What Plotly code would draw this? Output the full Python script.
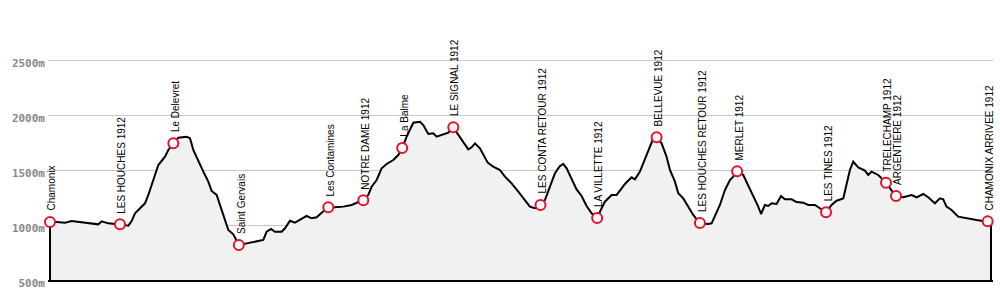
import plotly.graph_objects as go

# Profile: distance (km) and elevation (m)
dist = [0.0, 1.2, 2.7, 3.9, 5.1, 6.3, 7.5, 8.7, 9.3, 10.5, 11.7, 12.6, 14.1, 14.7, 15.3, 16.5, 17.1, 17.7,
        18.3, 18.9, 19.5, 20.7, 21.3, 22.2, 23.1, 24.6, 25.2, 25.8, 26.7, 27.6, 28.5, 29.1, 30.0, 30.6,
        31.5, 32.1, 33.0, 34.0, 35.4, 36.9, 38.4, 39.0, 39.8, 40.5, 41.7, 42.3, 43.2, 44.1, 45.3, 46.2,
        47.1, 48.0, 48.9, 50.1, 51.3, 52.8, 54.3, 55.2, 56.4, 57.3, 57.9, 58.8, 59.7, 60.6, 61.8, 62.7,
        63.4, 64.2, 64.8, 65.4, 66.6, 67.2, 68.1, 69.0, 69.6, 70.5, 71.7, 72.6, 73.5, 74.4, 75.3, 75.9,
        76.5, 77.4, 78.0, 78.8, 79.8, 81.0, 81.9, 83.1, 84.3, 85.2, 86.4, 87.3, 88.3, 89.1, 90.0, 90.9,
        91.8, 92.4, 93.0, 93.9, 94.8, 95.7, 96.6, 97.5, 98.5, 99.3, 99.9, 101.1, 102.0, 102.9, 103.5,
        104.7, 105.3, 106.2, 106.8, 107.4, 108.0, 108.6, 109.2, 110.1, 111.0, 111.6, 112.5, 113.1, 114.0,
        114.9, 115.8, 117.0, 118.5, 119.1, 119.7, 120.6, 121.5, 122.4, 123.0, 123.7, 124.8, 125.7, 126.6,
        127.5, 128.0, 128.7, 129.3, 129.9, 130.8, 131.6, 132.3, 133.5, 134.4, 135.6, 136.5, 137.7, 138.6,
        139.7, 140.7, 141.6, 142.8, 143.4, 144.0, 144.6, 145.5, 146.7, 147.3, 147.9, 149.1, 150.5, 151.5,
        152.3, 153.6, 155.1, 156.0, 157.2, 158.1, 159.3, 160.2, 160.8, 161.4, 162.3, 163.5, 165.0, 166.8,
        168.8, 169.4]
elev = [1030, 1027, 1021, 1036, 1027, 1018, 1012, 1006, 1033, 1015, 1009, 1006, 994, 1036, 1106, 1167, 1197, 1273,
        1364, 1439, 1545, 1621, 1682, 1743, 1794, 1803, 1788, 1682, 1576, 1485, 1394, 1309, 1273, 1182,
        1061, 955, 915, 818, 833, 848, 864, 939, 964, 939, 939, 970, 1039, 1021, 1052, 1082,
        1061, 1070, 1112, 1161, 1161, 1167, 1182, 1203, 1227, 1273, 1348, 1409, 1515, 1555, 1591, 1636,
        1697, 1803, 1864, 1930, 1939, 1909, 1827, 1833, 1803, 1818, 1839, 1888, 1818, 1758, 1688, 1706,
        1742, 1697, 1636, 1567, 1530, 1500, 1439, 1379, 1303, 1242, 1167, 1152, 1182, 1227, 1348, 1470,
        1536, 1555, 1515, 1424, 1324, 1264, 1173, 1106, 1067, 1152, 1212, 1273, 1273, 1333, 1373,
        1433, 1415, 1485, 1561, 1652, 1712, 1788, 1797, 1742, 1621, 1500, 1394, 1288, 1242,
        1167, 1091, 1015, 1009, 1015, 1076, 1182, 1318, 1409, 1439, 1488, 1455, 1364, 1258,
        1167, 1100, 1182, 1173, 1197, 1191, 1264, 1233, 1233, 1209, 1203, 1182, 1182, 1152,
        1115, 1182, 1221, 1242, 1379, 1500, 1576, 1524, 1494, 1455, 1485, 1455, 1385, 1318,
        1258, 1252, 1273, 1252, 1282, 1252, 1197, 1242, 1233, 1167, 1136, 1076, 1061, 1045,
        1030, 1030]

# Waypoints
wp_names = ["Chamonix", "LES HOUCHES 1912", "Le Delevret", "Saint Gervais", "Les Contamines",
            "NOTRE DAME 1912", "La Balme", "LE SIGNAL 1912", "LES CONTA RETOUR 1912",
            "LA VILLETTE 1912", "BELLEVUE 1912", "LES HOUCHES RETOUR 1912", "MERLET 1912",
            "LES TINES 1912", "TRELECHAMP 1912", "ARGENTIERE 1912", "CHAMONIX ARRIVEE 1912"]
wp_dist = [0.0, 12.6, 22.2, 34.0, 50.1, 56.4, 63.4, 72.6, 88.3, 98.5, 109.2, 117.0, 123.7,
           139.7, 150.5, 152.3, 168.8]
wp_elev = [1027, 1006, 1743, 818, 1161, 1224, 1700, 1888, 1182, 1064, 1797, 1018, 1488,
           1115, 1385, 1264, 1033]

y_ticks = [500, 1000, 1500, 2000, 2500]
y_tick_labels = ["500m", "1000m", "1500m", "2000m", "2500m"]

y_min = y_ticks[0]
px_per_m = 0.11
plot_h = 280
y_max = y_min + plot_h / px_per_m

fig = go.Figure()

fig.add_trace(go.Scatter(
    x=[dist[0]] + dist + [dist[-1]],
    y=[y_min] + elev + [y_min],
    mode="lines",
    line=dict(color="black", width=2),
    fill="toself",
    fillcolor="#f1f1f1",
    hoverinfo="skip",
    showlegend=False,
))

fig.add_trace(go.Scatter(
    x=wp_dist, y=wp_elev,
    mode="markers",
    marker=dict(size=10, color="white", line=dict(color="#e8102a", width=2)),
    cliponaxis=False,
    hoverinfo="skip",
    showlegend=False,
))

for n, xd, yd in zip(wp_names, wp_dist, wp_elev):
    fig.add_annotation(
        x=xd, y=yd, text=n, showarrow=False, textangle=-90,
        xanchor="center", yanchor="bottom", yshift=9, xshift=2,
        font=dict(family="Liberation Sans, Arial", size=10, color="black"),
    )

span = dist[-1] - dist[0]
pad = span / 941 * 2

fig.update_layout(
    width=1000, height=290,
    margin=dict(l=48, r=7, t=0, b=10),
    paper_bgcolor="white", plot_bgcolor="white",
    xaxis=dict(range=[dist[0] - pad, dist[-1] + pad], showgrid=False, zeroline=False,
               showticklabels=False, showline=True, linecolor="black", linewidth=2),
    yaxis=dict(range=[y_min, y_max], tickmode="array", tickvals=y_ticks, ticktext=y_tick_labels,
               showgrid=True, gridcolor="#c8c8c8", gridwidth=1, zeroline=False,
               tickfont=dict(family="DejaVu Sans Mono", size=11, color="#888888", weight="bold"),
               ticklabelstandoff=2, ticklabelshift=3),
)

fig.write_html("out.html")
